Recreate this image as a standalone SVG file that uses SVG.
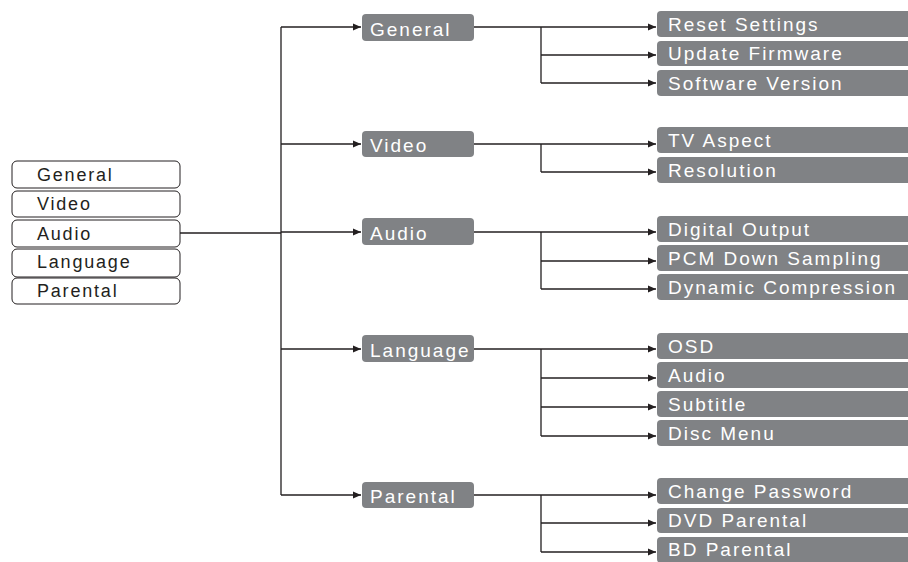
<svg xmlns="http://www.w3.org/2000/svg" width="908" height="562" viewBox="0 0 908 562">
<style>
.lb{fill:#fff;stroke:#231f20;stroke-width:1}
.gb{fill:#808285}
.lt{font-family:"Liberation Sans",Arial,sans-serif;font-size:18px;letter-spacing:1.8px;fill:#231f20}
.gt{font-family:"Liberation Sans",Arial,sans-serif;font-size:19px;letter-spacing:2px;fill:#fff}
.ln{fill:none;stroke:#231f20;stroke-width:1.3}
</style>
<defs>
<marker id="ah" markerUnits="userSpaceOnUse" markerWidth="9" markerHeight="9" refX="8" refY="4.5" orient="auto">
<path d="M0,1 L8,4.5 L0,8 Z" fill="#231f20"/>
</marker>
</defs>
<rect width="908" height="562" fill="#fff"/>
<g id="left-menu">
<g id="l-general"><rect class="lb" x="12" y="161" width="168" height="27" rx="5"/><text class="lt" x="37" y="181">General</text></g>
<g id="l-video"><rect class="lb" x="12" y="191" width="168" height="26" rx="5"/><text class="lt" x="37" y="210">Video</text></g>
<g id="l-audio"><rect class="lb" x="12" y="220" width="168" height="27" rx="5"/><text class="lt" x="37" y="240">Audio</text></g>
<g id="l-language"><rect class="lb" x="12" y="249" width="168" height="28" rx="5"/><text class="lt" x="37" y="268">Language</text></g>
<g id="l-parental"><rect class="lb" x="12" y="278" width="168" height="26" rx="5"/><text class="lt" x="37" y="297">Parental</text></g>
</g>
<g id="connectors">
<path class="ln" d="M180,233 H281 M281,27 V495"/>
<path class="ln" marker-end="url(#ah)" d="M281,27 H361"/>
<path class="ln" marker-end="url(#ah)" d="M281,144 H361"/>
<path class="ln" marker-end="url(#ah)" d="M281,232 H361"/>
<path class="ln" marker-end="url(#ah)" d="M281,349 H361"/>
<path class="ln" marker-end="url(#ah)" d="M281,495 H361"/>
<path class="ln" d="M541,27 V83 M541,144 V172 M541,232 V289 M541,349 V436 M541,495 V552"/>
<path class="ln" marker-end="url(#ah)" d="M474,27 H656"/>
<path class="ln" marker-end="url(#ah)" d="M541,55 H656"/>
<path class="ln" marker-end="url(#ah)" d="M541,83 H656"/>
<path class="ln" marker-end="url(#ah)" d="M474,144 H656"/>
<path class="ln" marker-end="url(#ah)" d="M541,172 H656"/>
<path class="ln" marker-end="url(#ah)" d="M474,232 H656"/>
<path class="ln" marker-end="url(#ah)" d="M541,261 H656"/>
<path class="ln" marker-end="url(#ah)" d="M541,289 H656"/>
<path class="ln" marker-end="url(#ah)" d="M474,349 H656"/>
<path class="ln" marker-end="url(#ah)" d="M541,378 H656"/>
<path class="ln" marker-end="url(#ah)" d="M541,407 H656"/>
<path class="ln" marker-end="url(#ah)" d="M541,436 H656"/>
<path class="ln" marker-end="url(#ah)" d="M474,495 H656"/>
<path class="ln" marker-end="url(#ah)" d="M541,523 H656"/>
<path class="ln" marker-end="url(#ah)" d="M541,552 H656"/>
</g>
<g id="m-general"><rect class="gb" x="362" y="14" width="112" height="27" rx="4"/><text class="gt" x="370" y="36">General</text></g>
<g id="m-video"><rect class="gb" x="362" y="131" width="112" height="26" rx="4"/><text class="gt" x="370" y="152">Video</text></g>
<g id="m-audio"><rect class="gb" x="362" y="218" width="112" height="27" rx="4"/><text class="gt" x="370" y="240">Audio</text></g>
<g id="m-language"><rect class="gb" x="362" y="335" width="112" height="27" rx="4"/><text class="gt" x="370" y="357">Language</text></g>
<g id="m-parental"><rect class="gb" x="362" y="482" width="112" height="26" rx="4"/><text class="gt" x="370" y="503">Parental</text></g>
<g id="r-reset"><rect class="gb" x="657" y="11" width="260" height="26" rx="4"/><text class="gt" x="668" y="31">Reset Settings</text></g>
<g id="r-update"><rect class="gb" x="657" y="41" width="260" height="25" rx="4"/><text class="gt" x="668" y="60">Update Firmware</text></g>
<g id="r-software"><rect class="gb" x="657" y="70" width="260" height="26" rx="4"/><text class="gt" x="668" y="90">Software Version</text></g>
<g id="r-tvaspect"><rect class="gb" x="657" y="127" width="260" height="26" rx="4"/><text class="gt" x="668" y="147">TV Aspect</text></g>
<g id="r-resolution"><rect class="gb" x="657" y="157" width="260" height="26" rx="4"/><text class="gt" x="668" y="177">Resolution</text></g>
<g id="r-digital"><rect class="gb" x="657" y="216" width="260" height="26" rx="4"/><text class="gt" x="668" y="236">Digital Output</text></g>
<g id="r-pcm"><rect class="gb" x="657" y="245" width="260" height="26" rx="4"/><text class="gt" x="668" y="265">PCM Down Sampling</text></g>
<g id="r-dynamic"><rect class="gb" x="657" y="274" width="260" height="26" rx="4"/><text class="gt" x="668" y="294">Dynamic Compression</text></g>
<g id="r-osd"><rect class="gb" x="657" y="333" width="260" height="26" rx="4"/><text class="gt" x="668" y="353">OSD</text></g>
<g id="r-audio"><rect class="gb" x="657" y="362" width="260" height="26" rx="4"/><text class="gt" x="668" y="382">Audio</text></g>
<g id="r-subtitle"><rect class="gb" x="657" y="391" width="260" height="26" rx="4"/><text class="gt" x="668" y="411">Subtitle</text></g>
<g id="r-discmenu"><rect class="gb" x="657" y="420" width="260" height="26" rx="4"/><text class="gt" x="668" y="440">Disc Menu</text></g>
<g id="r-changepw"><rect class="gb" x="657" y="478" width="260" height="26" rx="4"/><text class="gt" x="668" y="498">Change Password</text></g>
<g id="r-dvd"><rect class="gb" x="657" y="508" width="260" height="25" rx="4"/><text class="gt" x="668" y="527">DVD Parental</text></g>
<g id="r-bd"><rect class="gb" x="657" y="537" width="260" height="26" rx="4"/><text class="gt" x="668" y="556">BD Parental</text></g>
</svg>
